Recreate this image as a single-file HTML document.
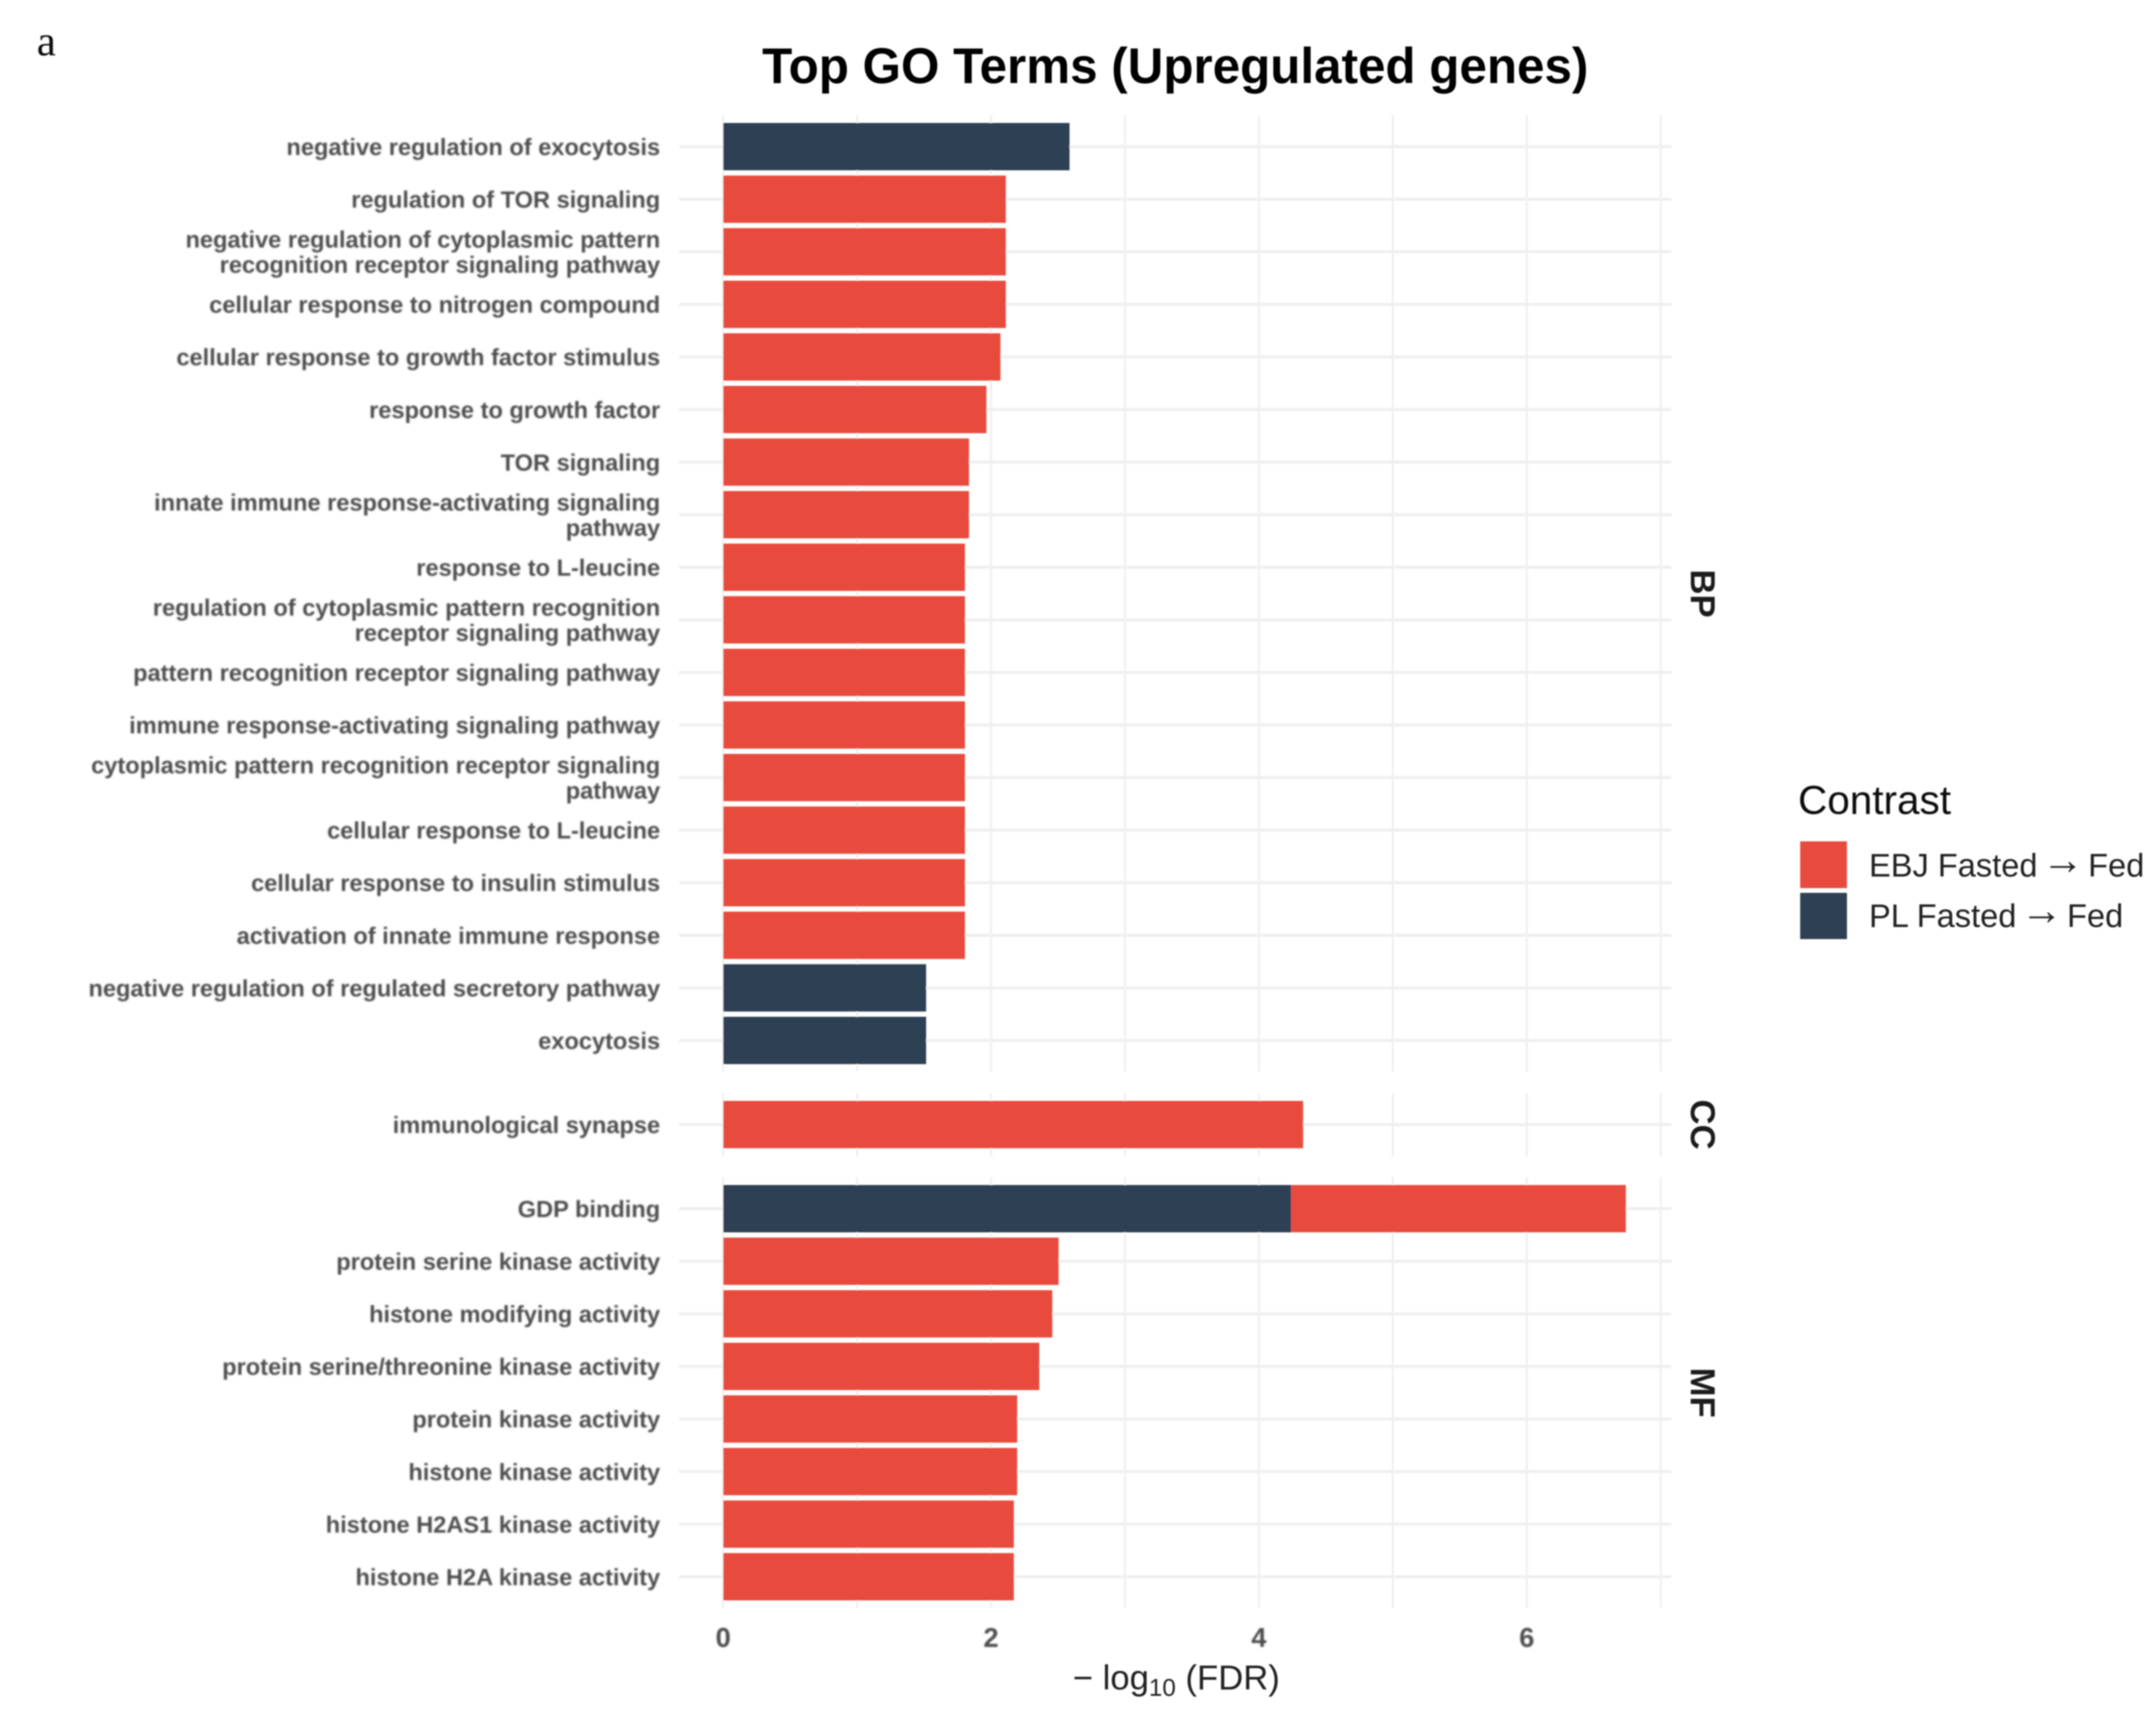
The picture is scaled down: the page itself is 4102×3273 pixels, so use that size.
<!DOCTYPE html>
<html lang="en">
<head>
<meta charset="utf-8">
<title>Top GO Terms (Upregulated genes)</title>
<style>
  html, body { margin: 0; padding: 0; background: #ffffff; }
  body { width: 4102px; height: 3273px; overflow: hidden; }
  svg { display: block; }
  text { font-family: "Liberation Sans", Arial, sans-serif; }
</style>
</head>
<body>
<svg id="chart" xmlns="http://www.w3.org/2000/svg" width="4102" height="3273" viewBox="0 0 4102 3273">
  <defs>
    <filter id="soft" filterUnits="userSpaceOnUse" x="0" y="0" width="4102" height="3273">
      <feGaussianBlur stdDeviation="1.3"/>
    </filter>
    <filter id="softer" filterUnits="userSpaceOnUse" x="0" y="0" width="4102" height="3273">
      <feGaussianBlur stdDeviation="1.4"/>
    </filter>
  </defs>
  <rect x="0" y="0" width="4102" height="3273" fill="#ffffff"/>
  <g id="root" filter="url(#soft)">
    <g id="grid-layer"></g>
    <g id="bar-layer"></g>
    <g id="label-layer" filter="url(#softer)"></g>
    <g id="tick-layer" filter="url(#softer)"></g>
    <g id="strip-layer"></g>

    <text x="70" y="105" font-size="82" fill="#111111" style="font-family:'Liberation Serif',serif">a</text>
    <text x="2236" y="158" font-size="96" font-weight="700" text-anchor="middle" textLength="1572" lengthAdjust="spacingAndGlyphs" fill="#000000">Top GO Terms (Upregulated genes)</text>

    <text x="2238" y="3215" font-size="66" text-anchor="middle" fill="#222222">− log<tspan font-size="46" dy="12">10</tspan><tspan dy="-12"> (FDR)</tspan></text>

    <g>
      <text x="3421" y="1549" font-size="77" fill="#111111">Contrast</text>
      <rect x="3425" y="1601" width="89" height="89" fill="#E84C3C"/>
      <text x="3556" y="1668" font-size="62" fill="#222222">EBJ Fasted <tspan font-size="80" dx="-9" dy="-5">→</tspan><tspan dx="-9" dy="5"> Fed</tspan></text>
      <rect x="3425" y="1699" width="89" height="88" fill="#2E3F52"/>
      <text x="3556" y="1764" font-size="62" fill="#222222">PL Fasted <tspan font-size="80" dx="-9" dy="-5">→</tspan><tspan dx="-9" dy="5"> Fed</tspan></text>
    </g>
  </g>
</svg>
<script>
// ---- chart data ----
const panelNames = ["BP", "CC", "MF"];
const panelSizes = [18, 1, 8];
const terms = [
  "negative regulation of exocytosis",
  "regulation of TOR signaling",
  "negative regulation of cytoplasmic pattern\nrecognition receptor signaling pathway",
  "cellular response to nitrogen compound",
  "cellular response to growth factor stimulus",
  "response to growth factor",
  "TOR signaling",
  "innate immune response-activating signaling\npathway",
  "response to L-leucine",
  "regulation of cytoplasmic pattern recognition\nreceptor signaling pathway",
  "pattern recognition receptor signaling pathway",
  "immune response-activating signaling pathway",
  "cytoplasmic pattern recognition receptor signaling\npathway",
  "cellular response to L-leucine",
  "cellular response to insulin stimulus",
  "activation of innate immune response",
  "negative regulation of regulated secretory pathway",
  "exocytosis",
  "immunological synapse",
  "GDP binding",
  "protein serine kinase activity",
  "histone modifying activity",
  "protein serine/threonine kinase activity",
  "protein kinase activity",
  "histone kinase activity",
  "histone H2AS1 kinase activity",
  "histone H2A kinase activity"
];
const plValues = [2.586, 0, 0, 0, 0, 0, 0, 0, 0, 0, 0, 0, 0, 0, 0, 0, 1.515, 1.515, 0, 4.24, 0, 0, 0, 0, 0, 0, 0];
const ebjValues = [0, 2.11, 2.11, 2.11, 2.07, 1.965, 1.835, 1.835, 1.805, 1.805, 1.805, 1.805, 1.805, 1.805, 1.805, 1.805, 0, 0, 4.33, 2.50, 2.504, 2.457, 2.36, 2.195, 2.195, 2.17, 2.17];
const majorTicks = [0, 2, 4, 6];
const minorTicks = [1, 3, 5, 7];

// ---- axis functions ----
const NS = "http://www.w3.org/2000/svg";
const EBJ_COLOR = "#E84C3C";
const PL_COLOR = "#2E3F52";
const PLOT_TOP = 219;
const BAND = 100.05;
const PANEL_GAP = 40;
const BAR_FRACTION = 0.9;
const EXPAND = 0.6;

function xScale(v) { return 1376 + 254.8 * v; }
function panelTop(p) {
  let top = PLOT_TOP;
  for (let i = 0; i < p; i++) top += (panelSizes[i] + 2 * EXPAND - 1) * BAND + PANEL_GAP;
  return top;
}
function panelBottom(p) { return panelTop(p) + (panelSizes[p] + 2 * EXPAND - 1) * BAND; }
function yScale(p, indexInPanel) { return panelTop(p) + (EXPAND + indexInPanel) * BAND; }
function svgEl(tag) { return document.createElementNS(NS, tag); }

const gridLayer = document.getElementById("grid-layer");
const barLayer = document.getElementById("bar-layer");
const labelLayer = document.getElementById("label-layer");
const tickLayer = document.getElementById("tick-layer");
const stripLayer = document.getElementById("strip-layer");

function drawVertical(parent, value, p, width) {
  const line = svgEl("line");
  
  
  line.setAttribute("x1", xScale(value));
  line.setAttribute("x2", xScale(value));
  line.setAttribute("y1", panelTop(p));
  line.setAttribute("y2", panelBottom(p));
  line.setAttribute("stroke", "#f0f0f0");
  line.setAttribute("stroke-width", width);
  parent.appendChild(line);
}

function drawBar(parent, from, to, center, color, name) {
  const rect = svgEl("rect");
  
  
  rect.setAttribute("x", xScale(from));
  rect.setAttribute("width", xScale(to) - xScale(from));
  rect.setAttribute("y", center - BAND * BAR_FRACTION / 2);
  rect.setAttribute("height", BAND * BAR_FRACTION);
  rect.setAttribute("fill", color);
  parent.appendChild(rect);
}

let termIndex = 0;
panelNames.forEach(function (panelName, p) {
  majorTicks.forEach(function (t) { drawVertical(gridLayer, t, p, 4); });
  minorTicks.forEach(function (t) { drawVertical(gridLayer, t, p, 4); });

  for (let i = 0; i < panelSizes[p]; i++, termIndex++) {
    const cy = yScale(p, i);

    const grid = svgEl("line");
    
    
    grid.setAttribute("x1", 1292);
    grid.setAttribute("x2", 3180);
    grid.setAttribute("y1", cy);
    grid.setAttribute("y2", cy);
    grid.setAttribute("stroke", "#f0f0f0");
    grid.setAttribute("stroke-width", 6);
    gridLayer.appendChild(grid);

    const pl = plValues[termIndex];
    const ebj = ebjValues[termIndex];
    if (pl > 0) drawBar(barLayer, 0, pl, cy, PL_COLOR, "bar-pl");
    if (ebj > 0) drawBar(barLayer, pl, pl + ebj, cy, EBJ_COLOR, "bar-ebj");

    const lines = terms[termIndex].split("\n");
    const label = svgEl("text");
    
    
    label.setAttribute("font-size", 44.9);
    label.setAttribute("font-weight", 700);
    label.setAttribute("fill", "#4d4d4d");
    label.setAttribute("text-anchor", "end");
    lines.forEach(function (ln, k) {
      const span = svgEl("tspan");
      span.setAttribute("x", 1256);
      span.setAttribute("y", cy + 16 + (k - (lines.length - 1) / 2) * 48);
      span.textContent = ln;
      label.appendChild(span);
    });
    labelLayer.appendChild(label);
  }

  const strip = svgEl("text");
  
  
  const stripY = (panelTop(p) + panelBottom(p)) / 2;
  strip.setAttribute("transform", "translate(3217 " + stripY + ") rotate(90)");
  strip.setAttribute("font-size", 66);
  strip.setAttribute("font-weight", 700);
  strip.setAttribute("text-anchor", "middle");
  strip.setAttribute("fill", "#1a1a1a");
  strip.textContent = panelName;
  stripLayer.appendChild(strip);
});

majorTicks.forEach(function (t) {
  const tick = svgEl("text");
  
  
  tick.setAttribute("x", xScale(t));
  tick.setAttribute("y", 3134);
  tick.setAttribute("font-size", 52);
  tick.setAttribute("font-weight", 700);
  tick.setAttribute("text-anchor", "middle");
  tick.setAttribute("fill", "#4d4d4d");
  tick.textContent = String(t);
  tickLayer.appendChild(tick);
});
</script>
</body>
</html>
